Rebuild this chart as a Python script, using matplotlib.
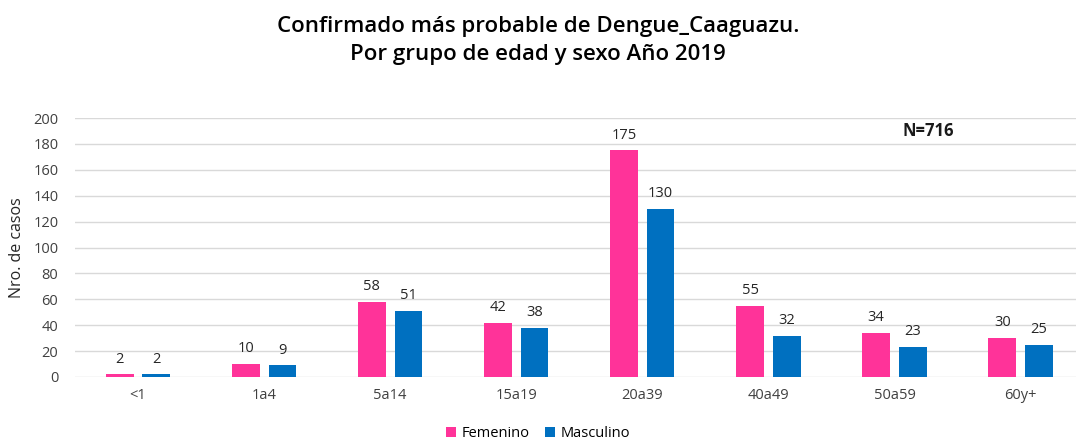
import matplotlib.pyplot as plt
import numpy as np

plt.rcParams['font.family'] = ['Open Sans', 'DejaVu Sans']

grupos = ['<1', '1a4', '5a14', '15a19', '20a39', '40a49', '50a59', '60y+']
femenino = [2, 10, 58, 42, 175, 55, 34, 30]
masculino = [2, 9, 51, 38, 130, 32, 23, 25]

fig = plt.figure(figsize=(10.76, 4.43), dpi=100)
ax = fig.add_axes([75/1076, 1 - 377/443, 1001/1076, (377 - 118)/443])

x = np.arange(len(grupos))
w = 0.22
b1 = ax.bar(x - 0.145, femenino, w, color='#FF3399', label='Femenino', zorder=3)
b2 = ax.bar(x + 0.145, masculino, w, color='#0070C0', label='Masculino', zorder=3)

# etiquetas de valor sobre cada barra
for bars in (b1, b2):
    for r in bars:
        ax.text(r.get_x() + r.get_width()/2, r.get_height() + 6, str(int(r.get_height())),
                ha='center', va='bottom', fontsize=10.5, color='#262626')

ax.set_xlim(-0.5, 7.44)
ax.set_ylim(0, 200)
ax.set_yticks(range(0, 201, 20))
ax.set_xticks(x)
ax.set_xticklabels(grupos)
ax.yaxis.grid(True, color='#d9d9d9', linewidth=1, zorder=0)
for s in ax.spines.values():
    s.set_visible(False)
ax.tick_params(length=0, labelsize=10.5, colors='#404040', pad=8)
ax.tick_params(axis='y', pad=12)
ax.set_ylabel('Nro. de casos', fontsize=11.5, color='#262626', labelpad=6)

ax.text(0.852, 0.95, 'N=716', transform=ax.transAxes, fontsize=12, fontweight='bold',
        color='#1a1a1a', ha='center', va='center')

fig.text(0.5, 0.965, 'Confirmado más probable de Dengue_Caaguazu.\nPor grupo de edad y sexo Año 2019',
         ha='center', va='top', fontsize=16, fontweight='semibold', color='#000000', linespacing=1.45)

fig.legend(loc='lower center', bbox_to_anchor=(0.5, -0.025), ncol=2, frameon=False,
           fontsize=10.5, handlelength=0.7, handleheight=0.7, columnspacing=1.0, handletextpad=0.4)

fig.savefig('out.png', dpi=100)
